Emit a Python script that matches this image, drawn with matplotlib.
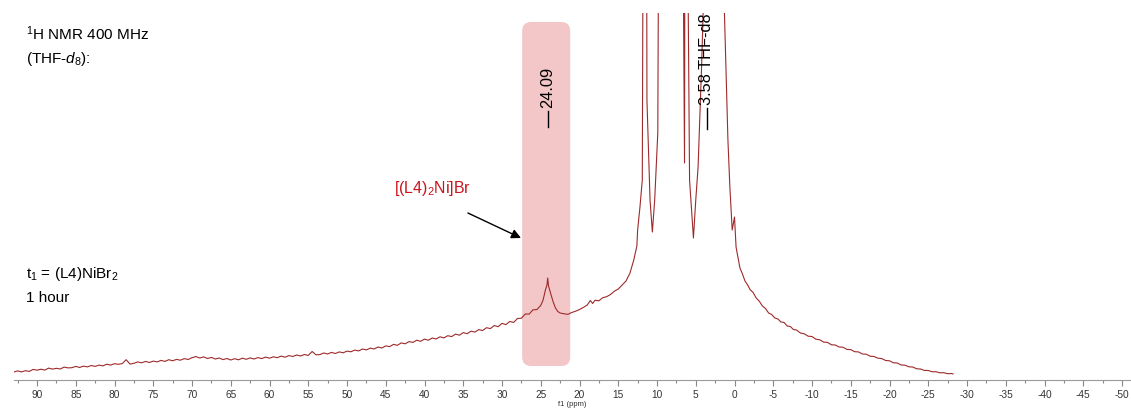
import numpy as np
import matplotlib
matplotlib.use('Agg')
import matplotlib.pyplot as plt
from matplotlib.patches import FancyBboxPatch
from matplotlib.transforms import IdentityTransform
from matplotlib.ticker import MultipleLocator

plt.rcParams['font.family'] = ['Liberation Sans', 'DejaVu Sans']
plt.rcParams['mathtext.fontset'] = 'custom'
plt.rcParams['mathtext.rm'] = 'Liberation Sans'
plt.rcParams['mathtext.it'] = 'Liberation Sans:italic'

# ---- spectrum (ppm, intensity in arb. units) ----
# broad baseline, 93 -> 25 ppm in 0.5 ppm steps
left_ppm = np.arange(93.0, 24.9, -0.5)
left_int = [8.0, 9.1, 8.1, 9.3, 8.6, 10.6, 9.8, 10.8, 9.9, 11.9,
            10.9, 11.7, 11.0, 12.9, 12.1, 12.3, 13.6, 12.5, 13.9, 13.1,
            14.5, 13.6, 14.9, 14.1, 15.8, 14.9, 16.3, 15.7, 16.4, 20.3,
            15.9, 16.7, 18.1, 17.2, 18.6, 17.5, 18.9, 18.1, 19.6, 18.6,
            20.3, 19.2, 20.6, 19.8, 21.4, 20.5, 22.3, 23.4, 22.0, 23.1,
            21.5, 22.6, 21.0, 22.0, 20.4, 21.5, 20.0, 21.3, 20.2, 21.8,
            20.7, 22.1, 21.0, 22.4, 21.4, 22.9, 21.8, 23.2, 22.3, 23.9,
            22.8, 24.4, 23.5, 25.0, 24.0, 25.5, 24.6, 28.5, 25.2, 25.4,
            27.0, 26.0, 27.6, 26.5, 28.1, 27.2, 28.9, 28.2, 29.9, 29.1,
            31.0, 30.1, 31.9, 31.0, 33.0, 32.0, 34.1, 33.4, 35.6, 34.7,
            37.1, 36.2, 38.4, 37.6, 39.8, 38.7, 40.9, 39.8, 42.0, 41.0,
            43.2, 42.1, 44.3, 43.4, 45.9, 44.8, 47.4, 46.3, 48.8, 47.9,
            50.4, 49.5, 52.3, 51.4, 54.5, 53.3, 56.6, 55.4, 58.5, 57.6,
            61.5, 61.8, 66.0, 65.9, 70.2, 70.4, 74.6]

# [(L4)2Ni]Br peak and the diamagnetic region (tall peaks run off scale)
mid_ppm = [24.7, 24.4, 24.2, 24.1, 24.0, 23.7, 23.4, 23.1, 22.8, 22.5, 22.0,
           21.5, 21.0, 20.5, 20.0, 19.5, 19.0, 18.6, 18.3, 18.0, 17.5, 17.0,
           16.5, 16.0, 15.5, 15.0, 14.5, 14.0, 13.5, 13.0, 12.8, 12.6, 12.5,
           12.2, 11.9, 11.5, 11.3, 10.9, 10.6, 10.3, 9.9, 9.4, 8.0, 6.6,
           6.45, 6.3, 6.0, 5.8, 5.3, 5.0, 4.7, 4.25, 4.05, 3.58, 2.6, 1.3,
           1.0, 0.85, 0.6, 0.3, 0.0, -0.2]
mid_int = [80, 90, 95, 102, 94, 86, 78, 72, 68.5, 67, 66.2,
           65.7, 67.5, 68.8, 70.5, 72.6, 75.0, 79.5, 76.5, 79.8, 79.2, 82.3,
           83.3, 85.5, 88.8, 91.0, 95, 99, 106.7, 120, 127, 134, 150,
           173, 200, 1200, 280, 180, 148, 180, 247, 1200, 1500, 400,
           217, 1000, 400, 200, 142, 180, 213, 313, 367, 1500, 1200, 367,
           280, 240, 193, 150, 163, 133]

# upfield tail
right_ppm = [-0.5, -0.7, -1.0, -1.35, -1.7, -2.0, -2.4, -2.8, -3.2, -3.6,
             -4.0, -4.4, -4.8, -5.2, -5.6, -6.0, -6.4, -6.8, -7.2, -7.6,
             -8.0, -8.5, -9.0, -9.5, -10.0, -10.5, -11.0, -11.5, -12.0, -12.5,
             -13.0, -13.5, -14.0, -14.5, -15.0, -15.5, -16.0, -16.5, -17.0,
             -17.5, -18.0, -18.5, -19.0, -19.5, -20.0, -20.5, -21.0, -21.5,
             -22.0, -22.5, -23.0, -23.5, -24.0, -24.5, -25.0, -25.5, -26.0,
             -26.5, -27.0, -27.5, -28.0, -28.2]
right_int = [120.5, 112, 106.5, 99, 95, 90.5, 87.5, 82, 78.8, 74,
             71.5, 67, 65.5, 62, 61, 58, 57.5, 54, 53.5, 50.5,
             50, 47, 46.2, 43.8, 43.5, 40.8, 40.2, 37.9, 37.6, 35.2,
             35.0, 33.0, 32.8, 30.6, 30.4, 28.3, 28.1, 26.0, 25.8,
             23.8, 23.5, 21.8, 21.4, 19.5, 19.2, 17.2, 17.0, 15.0,
             14.8, 13.2, 13.0, 11.2, 11.0, 9.6, 9.5, 8.2, 8.3,
             7.2, 7.3, 6.3, 6.5, 6.0]

ppm = np.concatenate([left_ppm, mid_ppm, right_ppm])
intensity = np.concatenate([left_int, mid_int, right_int])

band_ppm = (27.4, 21.2)
peak_pos = [24.09, 3.58]
peak_labels = ['24.09', '3.58 THF-d8']

fig = plt.figure(figsize=(11.31, 4.08), dpi=100)
ax = fig.add_axes([14 / 1131, 28 / 408, 1117 / 1131, 367 / 408])

ax.plot(ppm, intensity, color='#9e2a2b', linewidth=0.8, zorder=3)
ax.set_xlim(92.97, -51.16)
ax.set_ylim(0, 367)

for s in ['top', 'left', 'right']:
    ax.spines[s].set_visible(False)
ax.spines['bottom'].set_color('#9a9a9a')
ax.set_yticks([])
ax.xaxis.set_major_locator(MultipleLocator(5))
ax.xaxis.set_minor_locator(MultipleLocator(2.5))
ax.tick_params(axis='x', which='major', length=4, width=0.8, color='#888888',
               labelsize=7.3, labelcolor='#333333', pad=3)
ax.tick_params(axis='x', which='minor', length=2.5, width=0.8, color='#888888')
ax.set_xticklabels([f'{int(v)}' for v in ax.get_xticks()])
ax.set_xlabel('f1 (ppm)', fontsize=5.5, labelpad=1, color='#333333')

# highlight band with rounded corners, placed in pixel space
fig.canvas.draw()
x0, y0 = ax.transData.transform((band_ppm[0], 14))
x1, y1 = ax.transData.transform((band_ppm[1], 358))
band = FancyBboxPatch((x0, y0), x1 - x0, y1 - y0,
                      boxstyle='round,pad=0,rounding_size=9',
                      facecolor='#f3c6c8', edgecolor='none', zorder=1)
band.set_transform(IdentityTransform())
ax.add_patch(band)

# peak labels with their short leader lines
ax.plot([peak_pos[0], peak_pos[0]], [253, 269], color='black', lw=1, zorder=4)
ax.text(peak_pos[0], 272, peak_labels[0], rotation=90, ha='center',
        va='bottom', fontsize=11.8, zorder=4)
ax.plot([peak_pos[1], peak_pos[1]], [251, 272], color='black', lw=1, zorder=4)
ax.text(peak_pos[1], 275, peak_labels[1], rotation=90, ha='center',
        va='bottom', fontsize=11.8, zorder=4)

# annotation
ax.text(39.0, 192, r'[(L4)$_2$Ni]Br', color='#c8161d', fontsize=11.5,
        ha='center', va='center')
ax.annotate('', xy=(27.55, 142), xytext=(34.4, 167),
            arrowprops=dict(arrowstyle='-|>', color='black', lw=1,
                            mutation_scale=14, shrinkA=0, shrinkB=0))

fig.text(26 / 1131, 1 - 40 / 408, r'$^1$H NMR 400 MHz', fontsize=11,
         ha='left', va='baseline')
fig.text(26 / 1131, 1 - 63 / 408, r'(THF-$\mathit{d_8}$):', fontsize=11,
         ha='left', va='baseline')
fig.text(26 / 1131, 1 - 278 / 408, r't$_1$ = (L4)NiBr$_2$', fontsize=11,
         ha='left', va='baseline')
fig.text(26 / 1131, 1 - 302 / 408, '1 hour', fontsize=11,
         ha='left', va='baseline')

fig.savefig('out.png', dpi=100)
